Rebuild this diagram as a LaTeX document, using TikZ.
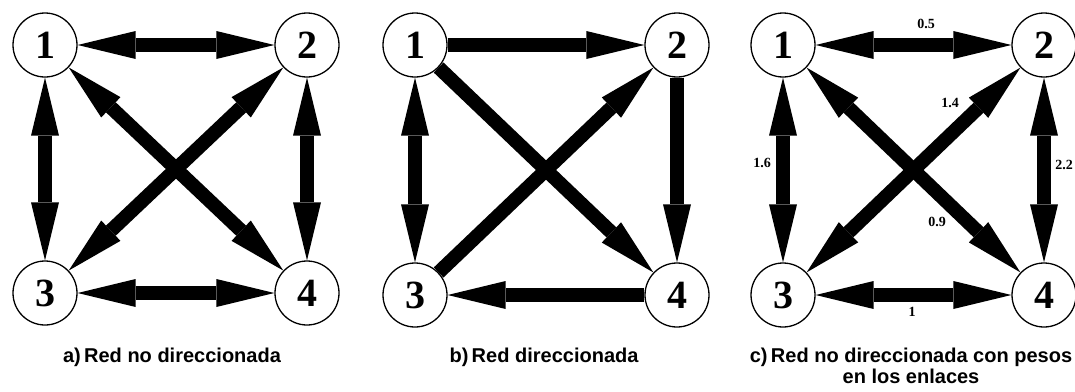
\documentclass[tikz,border=0pt]{standalone}
\usepackage{fontspec}
\usetikzlibrary{arrows.meta}
\newfontfamily\numfont{Liberation Serif}
\newfontfamily\capfont{Liberation Sans}
\begin{document}
\begin{tikzpicture}[x=1pt,y=-1pt,
  vtx/.style={circle,draw,line width=1.3pt,minimum size=64pt,inner sep=0pt,fill=white,
    font=\numfont\bfseries\fontsize{40}{40}\selectfont},
  link/.style={line width=14pt,
    arrows={-Triangle[length=58pt,width=28pt,line width=0pt]}},
  blink/.style={line width=14pt,
    arrows={Triangle[length=58pt,width=28pt,line width=0pt]-Triangle[length=58pt,width=28pt,line width=0pt]}},
  wlab/.style={font=\numfont\bfseries\fontsize{14}{14}\selectfont,inner sep=0pt},
  captext/.style={font=\capfont\bfseries\fontsize{20}{21}\selectfont,align=center,inner sep=0pt}]
\useasboundingbox (0,0) rectangle (1075,391);
% panel a
\node[vtx] (a1) at (45,45) {1};
\node[vtx] (a2) at (307,45) {2};
\node[vtx] (a3) at (45,293) {3};
\node[vtx] (a4) at (307,293) {4};
\draw[blink] (a1) -- (a2);
\draw[blink] (a1) -- (a3);
\draw[blink] (a2) -- (a4);
\draw[blink] (a3) -- (a4);
\draw[blink] (a1) -- (a4);
\draw[blink] (a3) -- (a2);
\node[captext] (ca) at (172,357) {a)\,Red no direccionada};
% panel b
\node[vtx] (b1) at (415,45) {1};
\node[vtx] (b2) at (677,45) {2};
\node[vtx] (b3) at (415,295) {3};
\node[vtx] (b4) at (677,295) {4};
\draw[link] (b1) -- (b2);
\draw[blink] (b1) -- (b3);
\draw[link] (b2) -- (b4);
\draw[link] (b4) -- (b3);
\draw[link] (b1) -- (b4);
\draw[link] (b3) -- (b2);
\node[captext] (cb) at (544,357) {b)\,Red direccionada};
% panel c
\node[vtx] (c1) at (783,45) {1};
\node[vtx] (c2) at (1044,45) {2};
\node[vtx] (c3) at (783,295) {3};
\node[vtx] (c4) at (1044,295) {4};
\draw[blink] (c1) -- (c2);
\draw[blink] (c1) -- (c3);
\draw[blink] (c2) -- (c4);
\draw[blink] (c3) -- (c4);
\draw[blink] (c1) -- (c4);
\draw[blink] (c3) -- (c2);
\node[wlab] (w12) at (926,24) {0.5};
\node[wlab] (w32) at (950,103) {1.4};
\node[wlab] (w13) at (762,163) {1.6};
\node[wlab] (w24) at (1064,165) {2.2};
\node[wlab] (w14) at (937,222) {0.9};
\node[wlab] (w34) at (912,312) {1};
\node[captext] (cc) at (911,366) {c)\,Red no direccionada con pesos\\en los enlaces};
\end{tikzpicture}
\end{document}
